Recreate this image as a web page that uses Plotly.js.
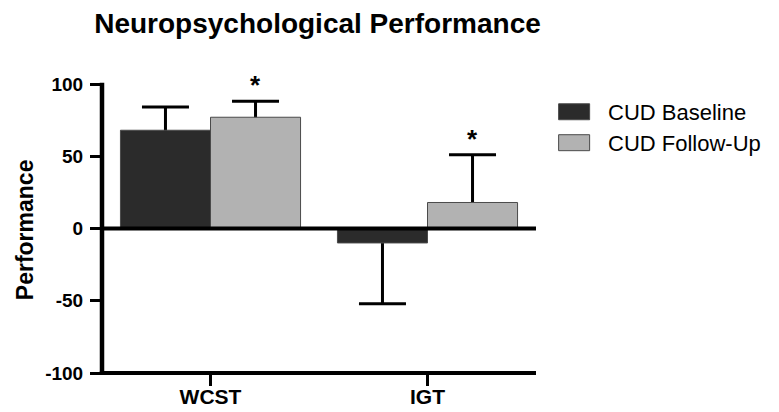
<!DOCTYPE html>
<html>
<head>
<meta charset="utf-8">
<script src="https://cdn.plot.ly/plotly-3.0.1.min.js"></script>
<style>
  html, body { margin: 0; padding: 0; background: #ffffff; }
  #chart { width: 779px; height: 412px; }
</style>
</head>
<body>
<div id="chart"></div>
<script>
// ---- data ----
var categories = ['WCST', 'IGT'];
var seriesNames = ['CUD Baseline', 'CUD Follow-Up'];
var baselineValues = [68, -10];
var followupValues = [77, 18];
var baselineErr = [16, 42];
var followupErr = [11, 33];
var yTickVals = [-100, -50, 0, 50, 100];
var yTickText = ['-100', '-50', '0', '50', '100'];
var chartTitle = 'Neuropsychological Performance';
var yTitle = 'Performance';

// ---- layout geometry (pixels) ----
var W = 779, H = 412;
var L = 102, T = 83.5, R = 535.7, B = 373;
var PW = R - L, PH = B - T;
function px(x) { return (x - L) / PW; }
function py(y) { return (B - y) / PH; }

var FONT = 'Liberation Sans, Arial, Helvetica, sans-serif';
var darkCol = '#2b2b2b';
var lightCol = '#b2b2b2';
var edgeCol = '#4a4a4a';

// one-sided error bars: outward from the bar end; inner end hidden at zero line
function upArr(vals, errs) { return vals.map(function (v, i) { return v >= 0 ? errs[i] : -v; }); }
function downArr(vals, errs) { return vals.map(function (v, i) { return v >= 0 ? v : errs[i]; }); }

function errTrace(vals, errs, group) {
  return {
    type: 'bar', x: categories, y: vals, offsetgroup: group,
    marker: { color: 'rgba(0,0,0,0)', line: { width: 0 } },
    error_y: {
      type: 'data', symmetric: false,
      array: upArr(vals, errs), arrayminus: downArr(vals, errs),
      color: '#000000', thickness: 3, width: 23.5
    },
    showlegend: false, hoverinfo: 'skip'
  };
}
function barTrace(vals, name, col, group) {
  return {
    type: 'bar', x: categories, y: vals, name: name, offsetgroup: group,
    marker: { color: col, line: { color: edgeCol, width: 1 } },
    showlegend: false
  };
}

var data = [
  errTrace(baselineValues, baselineErr, 'g1'),
  errTrace(followupValues, followupErr, 'g2'),
  barTrace(baselineValues, seriesNames[0], darkCol, 'g1'),
  barTrace(followupValues, seriesNames[1], lightCol, 'g2')
];

var annotations = [];
// asterisks above follow-up error bars
categories.forEach(function (c, i) {
  var v = followupValues[i];
  var tip = v >= 0 ? v + followupErr[i] : v - followupErr[i];
  annotations.push({
    x: c, y: tip, xref: 'x', yref: 'y', text: '*', showarrow: false,
    xshift: 45, yshift: 16, xanchor: 'center', yanchor: 'middle',
    font: { family: FONT, size: 26, color: '#000', weight: 'bold' }
  });
});
// y title
annotations.push({
  x: px(25), y: py(229), xref: 'paper', yref: 'paper', text: yTitle,
  textangle: -90, showarrow: false, xanchor: 'center', yanchor: 'middle',
  font: { family: FONT, size: 23, color: '#000', weight: 'bold' }
});
// legend texts
var legendY = [111.7, 143.3];
seriesNames.forEach(function (n, i) {
  annotations.push({
    x: px(606), y: py(legendY[i]), xref: 'paper', yref: 'paper', text: n,
    showarrow: false, xanchor: 'left', yanchor: 'middle',
    font: { family: FONT, size: 22, color: '#000' }
  });
});

var swatchTop = [103.3, 134.3];
var swatchCols = [darkCol, lightCol];
var shapes = [];
swatchTop.forEach(function (t, i) {
  shapes.push({
    type: 'rect', xref: 'paper', yref: 'paper',
    x0: px(558.3), x1: px(589.3), y0: py(t + 16), y1: py(t),
    fillcolor: swatchCols[i], line: { color: edgeCol, width: 1 }
  });
});
// axis lines
shapes.push({ type: 'line', xref: 'paper', yref: 'paper', x0: 0, x1: 0, y0: 0, y1: 1.004,
  line: { color: '#000', width: 4.5 }, layer: 'above' });
shapes.push({ type: 'line', xref: 'paper', yref: 'paper', x0: -0.005, x1: 1, y0: 0, y1: 0,
  line: { color: '#000', width: 4 }, layer: 'above' });
// zero line
shapes.push({ type: 'line', xref: 'paper', yref: 'y', x0: 0, x1: 1, y0: 0, y1: 0,
  line: { color: '#000', width: 4 }, layer: 'above' });

var layout = {
  width: W, height: H,
  margin: { l: L, r: W - R, t: T, b: H - B, pad: 0 },
  paper_bgcolor: '#ffffff', plot_bgcolor: '#ffffff',
  showlegend: false,
  barmode: 'group', bargap: 0.17, bargroupgap: 0,
  title: {
    text: chartTitle, xref: 'container', yref: 'container',
    x: 317.5 / W, y: 1 - 23.5 / H, xanchor: 'center', yanchor: 'middle',
    font: { family: FONT, size: 28, color: '#000', weight: 'bold' }
  },
  xaxis: {
    type: 'category', categoryorder: 'array', categoryarray: categories,
    showline: false, showgrid: false, zeroline: false,
    ticks: 'outside', ticklen: 12, tickwidth: 3.5, tickcolor: '#000',
    ticklabelstandoff: -7,
    tickfont: { family: FONT, size: 21, color: '#000', weight: 'bold' },
    fixedrange: true
  },
  yaxis: {
    range: [-100, 100], showline: false, showgrid: false, zeroline: false,
    tickmode: 'array', tickvals: yTickVals, ticktext: yTickText,
    ticks: 'outside', ticklen: 11, tickwidth: 3, tickcolor: '#000',
    ticklabelstandoff: 3,
    tickfont: { family: FONT, size: 19, color: '#000', weight: 'bold' },
    fixedrange: true
  },
  annotations: annotations,
  shapes: shapes
};

Plotly.newPlot('chart', data, layout, { displayModeBar: false, staticPlot: true });
</script>
</body>
</html>
